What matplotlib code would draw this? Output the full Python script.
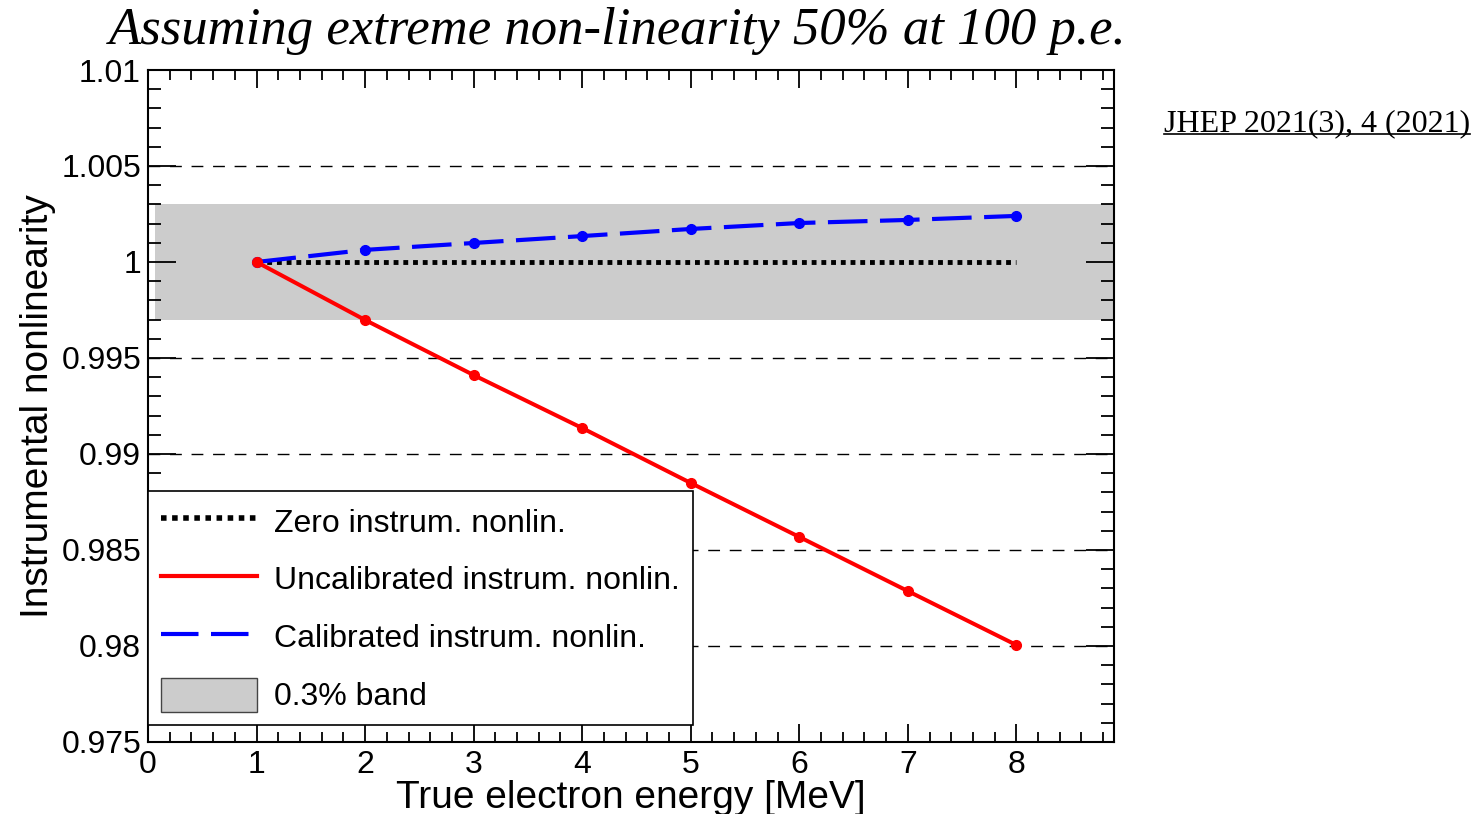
import numpy as np
import matplotlib
matplotlib.use('Agg')
import matplotlib.pyplot as plt
from matplotlib.ticker import MultipleLocator, FuncFormatter
from matplotlib.patches import Patch
from matplotlib.lines import Line2D

plt.rcParams['font.family'] = ['Liberation Sans', 'DejaVu Sans']

# data
energy = [1, 2, 3, 4, 5, 6, 7, 8]
uncalibrated = [1.0, 0.99698, 0.99411, 0.99135, 0.98849, 0.98568, 0.98286, 0.98005]
calibrated = [1.0, 1.00063, 1.00099, 1.00135, 1.00172, 1.00203, 1.00219, 1.0024]
zero_nonlin = [1.0] * len(energy)
band_lo, band_hi = 0.997, 1.003
band_x = [0.065, 8.9]
grid_y = [1.005, 0.995, 0.99, 0.985, 0.98]

fig = plt.figure(figsize=(14.74, 8.14), dpi=100)
ax = fig.add_axes([0.1004, 0.0885, 0.6554, 0.8255])

ax.fill_between(band_x, band_lo, band_hi, color='#cccccc', lw=0, zorder=0)
for g in grid_y:
    ax.axhline(g, color='black', lw=1.0, ls=(0, (8.5, 7)), zorder=1)

ax.plot(energy, zero_nonlin, color='black', lw=3.5, ls=(0, (1, 1)),
        dash_capstyle='butt', zorder=2)
ax.plot(energy, calibrated, color='blue', lw=3.0, ls=(0, (9.5, 3)), marker='o',
        ms=7, dash_capstyle='butt', zorder=3)
ax.plot(energy, uncalibrated, color='red', lw=2.9, marker='o', ms=7, zorder=4)

ax.set_xlim(0, 8.9)
ax.set_ylim(0.975, 1.01)
ax.xaxis.set_major_locator(MultipleLocator(1))
ax.xaxis.set_minor_locator(MultipleLocator(0.2))
ax.yaxis.set_major_locator(MultipleLocator(0.005))
ax.yaxis.set_minor_locator(MultipleLocator(0.001))
ax.yaxis.set_major_formatter(FuncFormatter(lambda v, p: '%g' % round(v, 4)))

ax.tick_params(which='both', direction='in', top=True, right=True,
               labelsize=23, width=1.3)
ax.tick_params(axis='x', which='major', length=13, pad=6)
ax.tick_params(axis='x', which='minor', length=7)
ax.tick_params(axis='y', which='major', length=20, pad=5)
ax.tick_params(axis='y', which='minor', length=9.5)
for s in ax.spines.values():
    s.set_linewidth(1.5)

ax.set_xlabel('True electron energy [MeV]', fontsize=28, labelpad=0)
ax.set_ylabel('Instrumental nonlinearity', fontsize=28, labelpad=4)

handles = [
    Line2D([], [], color='black', lw=4, ls=(0, (1, 1))),
    Line2D([], [], color='red', lw=3),
    Line2D([], [], color='blue', lw=3, ls=(0, (9, 3))),
    Patch(facecolor='#cccccc', edgecolor='#444444', lw=1),
]
labels = ['Zero instrum. nonlin.', 'Uncalibrated instrum. nonlin.',
          'Calibrated instrum. nonlin.', '0.3% band']
leg = ax.legend(handles, labels, loc='lower left', bbox_to_anchor=(0, 0.025),
                fontsize=23, frameon=True, fancybox=False, framealpha=1,
                edgecolor='black', borderaxespad=0, handlelength=3.0,
                handleheight=1.25, labelspacing=0.73, borderpad=0.4,
                handletextpad=0.55)
leg.get_frame().set_linewidth(1.2)
leg.set_zorder(5)

fig.text(0.419, 0.932, 'Assuming extreme non-linearity 50% at 100 p.e.',
         ha='center', va='bottom', fontsize=38, style='italic',
         family='Liberation Serif')

ref = fig.text(0.9975, 0.830, 'JHEP 2021(3), 4 (2021)', ha='right', va='bottom',
               fontsize=23, family='Liberation Serif')
fig.canvas.draw()
bb = ref.get_window_extent().transformed(fig.transFigure.inverted())
fig.add_artist(Line2D([bb.x0, bb.x1], [bb.y0 + 0.005, bb.y0 + 0.005],
                      transform=fig.transFigure, color='black', lw=1.2))

fig.savefig('out.png', dpi=100)
